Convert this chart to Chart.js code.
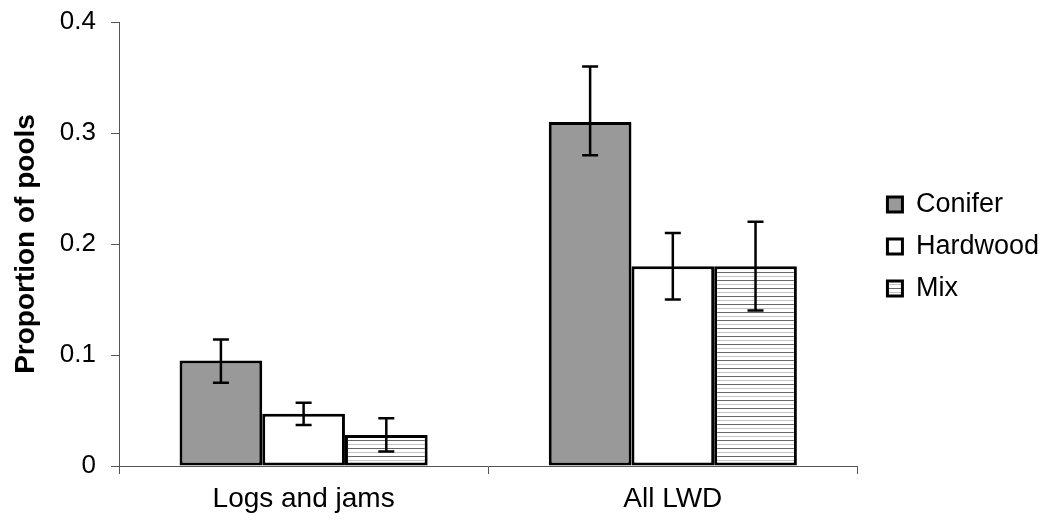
<!DOCTYPE html>
<html>
<head>
<meta charset="utf-8">
<script src="https://cdn.jsdelivr.net/npm/chart.js@4"></script>
<style>
  html, body { margin: 0; padding: 0; background: #fff; }
  #wrap { width: 1053px; height: 529px; }
</style>
</head>
<body>
<div id="wrap"><canvas id="poolChart"></canvas></div>
<script>
// data
let categories = ['Logs and jams', 'All LWD'];
let seriesNames = ['Conifer', 'Hardwood', 'Mix'];
let conifer = [0.095, 0.31];
let coniferLow = [0.075, 0.28];
let coniferHigh = [0.114, 0.36];
let hardwood = [0.047, 0.18];
let hardwoodLow = [0.037, 0.15];
let hardwoodHigh = [0.057, 0.21];
let mix = [0.028, 0.18];
let mixLow = [0.013, 0.14];
let mixHigh = [0.043, 0.22];

Chart.defaults.font.family = "'Liberation Sans', Arial, sans-serif";
Chart.defaults.font.size = 26;
Chart.defaults.color = 'black';

// horizontal stripes for the Mix bars
function stripes() {
  let c = document.createElement('canvas');
  c.width = 8;
  c.height = 8;
  let g = c.getContext('2d');
  g.fillStyle = '#fff';
  g.fillRect(0, 0, 8, 8);
  g.fillStyle = '#666';
  g.fillRect(0, 0, 8, 1);
  g.fillStyle = '#c4c4c4';
  g.fillRect(0, 4, 8, 1);
  return g.createPattern(c, 'repeat');
}

// error bars drawn from the low/high arrays
const errorBars = {
  id: 'errorBars',
  afterDatasetsDraw(chart) {
    let ctx = chart.ctx;
    let y = chart.scales.y;
    ctx.save();
    ctx.strokeStyle = 'black';
    ctx.lineWidth = 2.5;
    chart.data.datasets.forEach((ds, i) => {
      let meta = chart.getDatasetMeta(i);
      meta.data.forEach((bar, j) => {
        let x = bar.x;
        let top = y.getPixelForValue(ds.high[j]);
        let bot = y.getPixelForValue(ds.low[j]);
        ctx.beginPath();
        ctx.moveTo(x, top);
        ctx.lineTo(x, bot);
        ctx.moveTo(x - 8, top);
        ctx.lineTo(x + 8, top);
        ctx.moveTo(x - 8, bot);
        ctx.lineTo(x + 8, bot);
        ctx.stroke();
      });
    });
    ctx.restore();
  }
};

// nudge the legend a little away from the plot
const legendShift = {
  id: 'legendShift',
  afterLayout(chart) {
    let lg = chart.legend;
    lg.left += 15;
    lg.right += 15;
    lg.top -= 29;
    lg.bottom -= 29;
  }
};

let poolChart = new Chart(document.getElementById('poolChart'), {
  type: 'bar',
  data: {
    labels: categories,
    datasets: [{
      label: seriesNames[0],
      data: conifer,
      low: coniferLow,
      high: coniferHigh,
      backgroundColor: '#999999'
    }, {
      label: seriesNames[1],
      data: hardwood,
      low: hardwoodLow,
      high: hardwoodHigh,
      backgroundColor: '#ffffff'
    }, {
      label: seriesNames[2],
      data: mix,
      low: mixLow,
      high: mixHigh,
      backgroundColor: stripes()
    }].map(d => Object.assign(d, {
      borderColor: 'black',
      borderWidth: 3,
      borderSkipped: false,
      barPercentage: 1,
      categoryPercentage: 0.672
    }))
  },
  options: {
    responsive: true,
    maintainAspectRatio: false,
    animation: false,
    layout: { padding: { top: 22, right: 19, left: 0, bottom: 0 } },
    plugins: {
      tooltip: { enabled: false },
      legend: {
        position: 'right',
        labels: {
          boxWidth: 15,
          boxHeight: 15,
          padding: 15,
          font: { size: 27 }
        }
      }
    },
    scales: {
      x: {
        grid: { drawOnChartArea: false, color: '#555', tickLength: 8 },
        border: { color: '#555' },
        ticks: { padding: 8, font: { size: 28 } },
        afterFit(s) { s.height = 63; }
      },
      y: {
        min: 0,
        max: 0.4,
        ticks: { stepSize: 0.1, padding: 15, font: { size: 26 } },
        grid: { drawOnChartArea: false, color: '#555', tickLength: 8 },
        border: { color: '#555' },
        title: {
          display: true,
          text: 'Proportion of pools',
          font: { size: 28, weight: 'bold' },
          padding: { top: 9, bottom: 0 }
        },
        afterFit(s) {
          s.width = 119;
          s.paddingTop = 0;
          s.paddingBottom = 0;
        }
      }
    }
  },
  plugins: [errorBars, legendShift]
});
</script>
</body>
</html>
